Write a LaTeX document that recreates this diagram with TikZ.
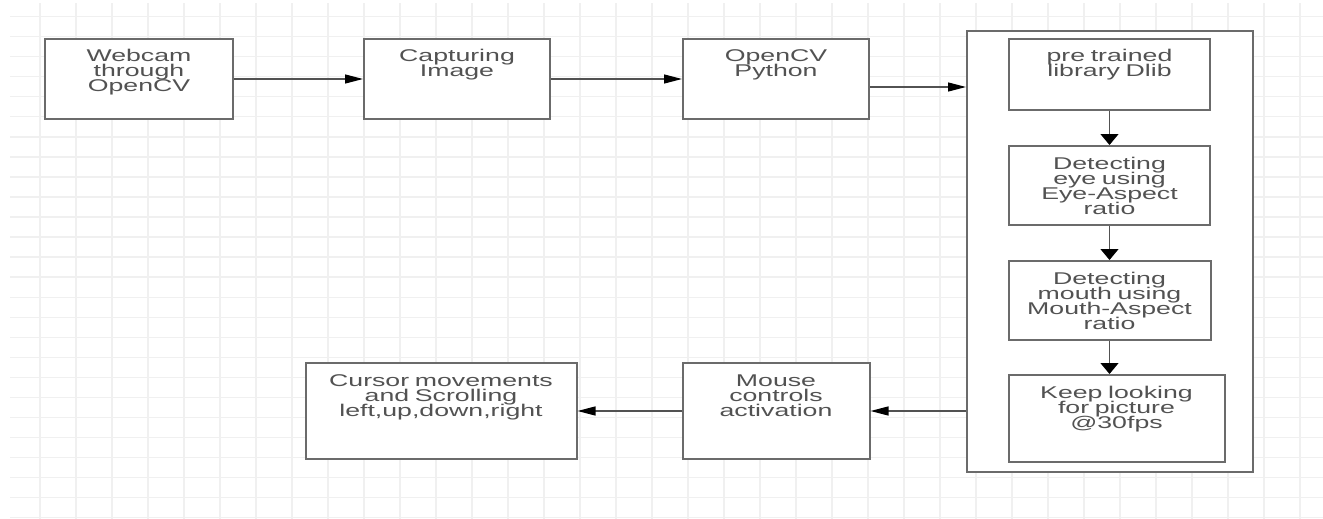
\documentclass[tikz,border=0pt]{standalone}
\usepackage{fontspec}
\setmainfont{Liberation Sans}[FakeStretch=1.57]
\usetikzlibrary{positioning,arrows.meta}

\tikzset{
	gridline/.style={draw=black!6, line width=1.4pt},
	block/.style={draw=black!58, line width=2pt, fill=white, inner sep=0pt, align=center, text=black!68, text height=23pt, font={\fontsize{17}{15}\selectfont\lineskiplimit=-30pt\relax}},
	panel/.style={draw=black!58, line width=2pt, fill=white, inner sep=0pt, minimum width=286pt, minimum height=441pt},
	flow/.style={draw=black!68, line width=1.3pt, -{Triangle[length=18pt,width=9pt,color=black]}},
	flowdown/.style={draw=black!68, line width=1.3pt, -{Triangle[length=11pt,width=18pt,color=black]}},
}

\begin{document}
\begin{tikzpicture}[x=1pt,y=-1pt]
	\useasboundingbox (0,0) rectangle (1323,519);
	\foreach \gx in {0,...,35}
		\draw[gridline] ({40+36*\gx},3) -- ({40+36*\gx},519);
	\foreach \gy in {0,...,25}
		\draw[gridline] (10,{16.5+20.05*\gy}) -- (1323,{16.5+20.05*\gy});

	\node[block, text width=188pt, text depth=57pt] (webcam) at (139,79) {Webcam\\through\\OpenCV};
	\node[block, text width=186pt, text depth=57pt, right=129pt of webcam] (capture) {Capturing\\Image};
	\node[block, text width=186pt, text depth=57pt, right=131pt of capture] (opencv) {OpenCV\\Python};
	\node[panel] (frame) at (1110,251.5) {};
	\node[block, text width=201pt, text depth=48pt] (pretrained) at (1109.5,74.5) {pre trained\\library Dlib};
	\node[block, text width=201pt, text depth=56pt, below=34pt of pretrained] (eye) {Detecting\\eye using\\Eye-Aspect\\ratio};
	\node[block, text width=202pt, text depth=56pt, below=34pt of eye] (mouthdet) {Detecting\\mouth using\\Mouth-Aspect\\ratio};
	\node[block, text width=216pt, text depth=64pt, below=33pt of mouthdet.south west, anchor=north west] (keep) {Keep looking\\for picture\\@30fps};
	\node[block, text width=187pt, text depth=73pt, below=242pt of opencv] (mouse) {Mouse\\controls\\activation};
	\node[block, text width=271pt, text depth=73pt, left=104pt of mouse] (cursor) {Cursor movements\\and Scrolling\\left,up,down,right};

	\draw[flow] (webcam) -- (capture);
	\draw[flow] (capture) -- (opencv);
	\draw[flow] ([yshift=-8pt]opencv.east) -- ([yshift=-8pt]opencv.east -| frame.west);
	\draw[flowdown] (pretrained) -- (eye);
	\draw[flowdown] (eye) -- (mouthdet);
	\draw[flowdown] (mouthdet.south) -- (mouthdet.south |- keep.north);
	\draw[flow] (mouse.east -| frame.west) -- (mouse.east);
	\draw[flow] (mouse) -- (cursor);
\end{tikzpicture}
\end{document}
